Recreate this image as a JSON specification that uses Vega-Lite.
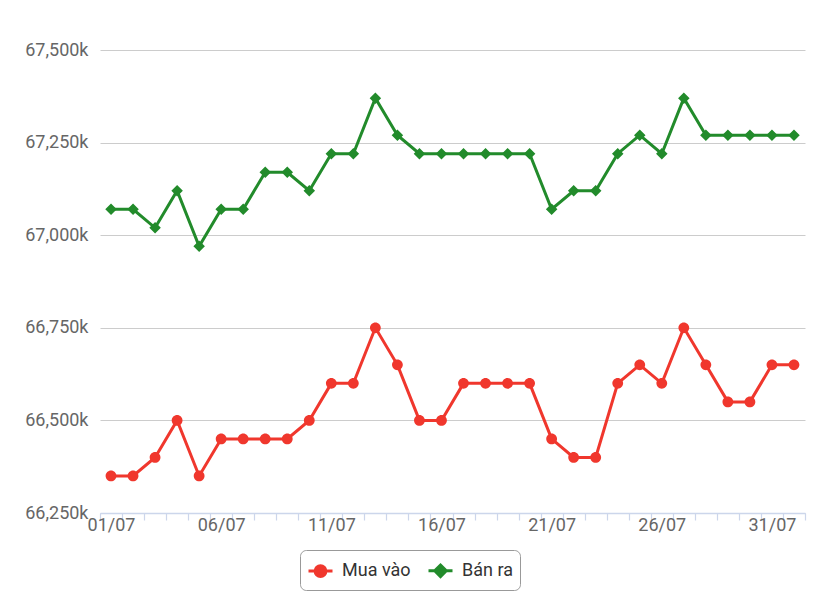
{
  "$schema": "https://vega.github.io/schema/vega-lite/v6.json",
  "width": 705,
  "height": 463,
  "autosize": "none",
  "padding": {"left": 100, "top": 50, "right": 13, "bottom": 92},
  "background": "white",
  "config": {
    "view": {"stroke": null},
    "font": "Roboto"
  },
  "data": {
    "values": [
      {"ngay": "01/07", "loai": "Mua vào", "gia": 66350}, {"ngay": "01/07", "loai": "Bán ra", "gia": 67070},
      {"ngay": "02/07", "loai": "Mua vào", "gia": 66350}, {"ngay": "02/07", "loai": "Bán ra", "gia": 67070},
      {"ngay": "03/07", "loai": "Mua vào", "gia": 66400}, {"ngay": "03/07", "loai": "Bán ra", "gia": 67020},
      {"ngay": "04/07", "loai": "Mua vào", "gia": 66500}, {"ngay": "04/07", "loai": "Bán ra", "gia": 67120},
      {"ngay": "05/07", "loai": "Mua vào", "gia": 66350}, {"ngay": "05/07", "loai": "Bán ra", "gia": 66970},
      {"ngay": "06/07", "loai": "Mua vào", "gia": 66450}, {"ngay": "06/07", "loai": "Bán ra", "gia": 67070},
      {"ngay": "07/07", "loai": "Mua vào", "gia": 66450}, {"ngay": "07/07", "loai": "Bán ra", "gia": 67070},
      {"ngay": "08/07", "loai": "Mua vào", "gia": 66450}, {"ngay": "08/07", "loai": "Bán ra", "gia": 67170},
      {"ngay": "09/07", "loai": "Mua vào", "gia": 66450}, {"ngay": "09/07", "loai": "Bán ra", "gia": 67170},
      {"ngay": "10/07", "loai": "Mua vào", "gia": 66500}, {"ngay": "10/07", "loai": "Bán ra", "gia": 67120},
      {"ngay": "11/07", "loai": "Mua vào", "gia": 66600}, {"ngay": "11/07", "loai": "Bán ra", "gia": 67220},
      {"ngay": "12/07", "loai": "Mua vào", "gia": 66600}, {"ngay": "12/07", "loai": "Bán ra", "gia": 67220},
      {"ngay": "13/07", "loai": "Mua vào", "gia": 66750}, {"ngay": "13/07", "loai": "Bán ra", "gia": 67370},
      {"ngay": "14/07", "loai": "Mua vào", "gia": 66650}, {"ngay": "14/07", "loai": "Bán ra", "gia": 67270},
      {"ngay": "15/07", "loai": "Mua vào", "gia": 66500}, {"ngay": "15/07", "loai": "Bán ra", "gia": 67220},
      {"ngay": "16/07", "loai": "Mua vào", "gia": 66500}, {"ngay": "16/07", "loai": "Bán ra", "gia": 67220},
      {"ngay": "17/07", "loai": "Mua vào", "gia": 66600}, {"ngay": "17/07", "loai": "Bán ra", "gia": 67220},
      {"ngay": "18/07", "loai": "Mua vào", "gia": 66600}, {"ngay": "18/07", "loai": "Bán ra", "gia": 67220},
      {"ngay": "19/07", "loai": "Mua vào", "gia": 66600}, {"ngay": "19/07", "loai": "Bán ra", "gia": 67220},
      {"ngay": "20/07", "loai": "Mua vào", "gia": 66600}, {"ngay": "20/07", "loai": "Bán ra", "gia": 67220},
      {"ngay": "21/07", "loai": "Mua vào", "gia": 66450}, {"ngay": "21/07", "loai": "Bán ra", "gia": 67070},
      {"ngay": "22/07", "loai": "Mua vào", "gia": 66400}, {"ngay": "22/07", "loai": "Bán ra", "gia": 67120},
      {"ngay": "23/07", "loai": "Mua vào", "gia": 66400}, {"ngay": "23/07", "loai": "Bán ra", "gia": 67120},
      {"ngay": "24/07", "loai": "Mua vào", "gia": 66600}, {"ngay": "24/07", "loai": "Bán ra", "gia": 67220},
      {"ngay": "25/07", "loai": "Mua vào", "gia": 66650}, {"ngay": "25/07", "loai": "Bán ra", "gia": 67270},
      {"ngay": "26/07", "loai": "Mua vào", "gia": 66600}, {"ngay": "26/07", "loai": "Bán ra", "gia": 67220},
      {"ngay": "27/07", "loai": "Mua vào", "gia": 66750}, {"ngay": "27/07", "loai": "Bán ra", "gia": 67370},
      {"ngay": "28/07", "loai": "Mua vào", "gia": 66650}, {"ngay": "28/07", "loai": "Bán ra", "gia": 67270},
      {"ngay": "29/07", "loai": "Mua vào", "gia": 66550}, {"ngay": "29/07", "loai": "Bán ra", "gia": 67270},
      {"ngay": "30/07", "loai": "Mua vào", "gia": 66550}, {"ngay": "30/07", "loai": "Bán ra", "gia": 67270},
      {"ngay": "31/07", "loai": "Mua vào", "gia": 66650}, {"ngay": "31/07", "loai": "Bán ra", "gia": 67270},
      {"ngay": "01/08", "loai": "Mua vào", "gia": 66650}, {"ngay": "01/08", "loai": "Bán ra", "gia": 67270}
    ]
  },
  "encoding": {
    "x": {
      "field": "ngay",
      "type": "ordinal",
      "sort": null,
      "scale": {"type": "band", "paddingInner": 0, "paddingOuter": 0},
      "axis": {
        "title": null,
        "tickBand": "extent",
        "labelAngle": 0,
        "labelOverlap": false,
        "labelBound": false,
        "labelExpr": "indexof(['01/07','06/07','11/07','16/07','21/07','26/07','31/07'], datum.value) >= 0 ? datum.value : ''",
        "labelFontSize": 18,
        "labelColor": "#666666",
        "labelFont": "Roboto",
        "labelPadding": -4,
        "tickSize": 7,
        "tickWidth": 1.2,
        "tickColor": "#ccd6eb",
        "domainColor": "#ccd6eb",
        "domainWidth": 1.5,
        "grid": false
      }
    },
    "y": {
      "field": "gia",
      "type": "quantitative",
      "scale": {"domain": [66250, 67500], "nice": false, "zero": false},
      "axis": {
        "title": null,
        "values": [66250, 66500, 66750, 67000, 67250, 67500],
        "labelExpr": "format(datum.value, ',') + 'k'",
        "labelFontSize": 18,
        "labelColor": "#666666",
        "labelFont": "Roboto",
        "labelPadding": 12,
        "ticks": false,
        "domain": false,
        "grid": true,
        "gridColor": "#cccccc"
      }
    },
    "color": {
      "field": "loai",
      "type": "nominal",
      "scale": {"domain": ["Mua vào", "Bán ra"], "range": ["#f0372d", "#228b2b"]},
      "legend": {
        "title": null,
        "orient": "none",
        "legendX": 200,
        "legendY": 500,
        "direction": "horizontal",
        "strokeColor": "#999999",
        "cornerRadius": 6,
        "padding": 7,
        "labelFontSize": 18,
        "labelColor": "#333333",
        "labelFont": "Roboto",
        "labelOffset": 8,
        "columnPadding": 11,
        "symbolSize": 576,
        "symbolStrokeWidth": 3,
        "encode": {
          "symbols": {
            "update": {
              "stroke": {"scale": "color", "field": "value"},
              "fill": {"scale": "color", "field": "value"},
              "strokeWidth": {"value": 3}
            }
          }
        }
      }
    }
  },
  "layer": [
    {
      "mark": {"type": "line", "strokeWidth": 3}
    },
    {
      "mark": {"type": "point", "filled": true, "opacity": 1, "size": 576},
      "encoding": {
        "shape": {
          "field": "loai",
          "type": "nominal",
          "scale": {
            "domain": ["Mua vào", "Bán ra"],
            "range": [
              "M-1,0H1M-0.45,0A0.45,0.45,0,1,1,0.45,0A0.45,0.45,0,1,1,-0.45,0Z",
              "M-1,0H1M0,-0.48L0.48,0L0,0.48L-0.48,0Z"
            ]
          },
          "legend": {
            "title": null,
            "orient": "none",
            "legendX": 200,
            "legendY": 500,
            "direction": "horizontal",
            "strokeColor": "#999999",
            "cornerRadius": 6,
            "padding": 7,
            "labelFontSize": 18,
            "labelColor": "#333333",
            "labelFont": "Roboto",
            "labelOffset": 8,
            "columnPadding": 11,
            "symbolSize": 576,
            "symbolStrokeWidth": 3,
            "encode": {
              "symbols": {
                "update": {
                  "stroke": {"scale": "color", "field": "value"},
                  "fill": {"scale": "color", "field": "value"},
                  "strokeWidth": {"value": 3}
                }
              }
            }
          }
        }
      }
    }
  ]
}
